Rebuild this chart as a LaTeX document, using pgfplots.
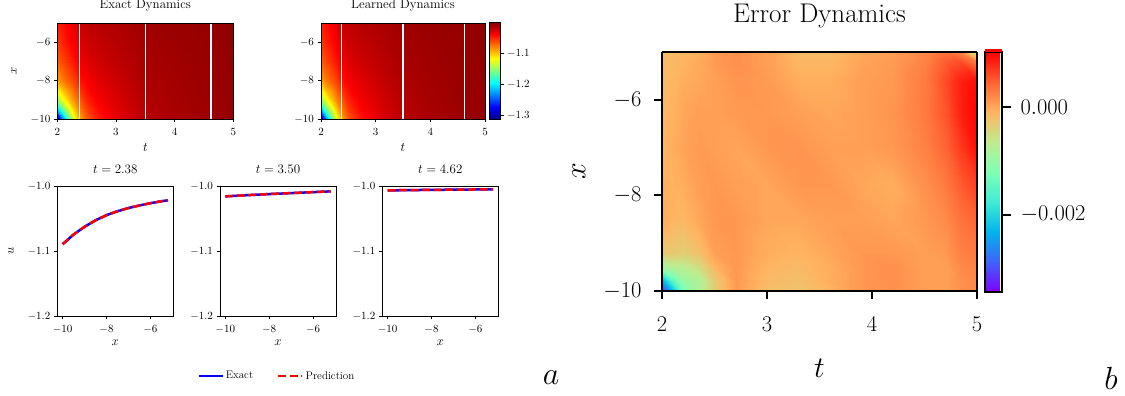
\RequirePackage{fix-cm}
\documentclass[border=0pt]{standalone}
\usepackage{pgfplots}
\usepackage{pgfplotstable}
\pgfplotsset{compat=1.18}
\newcommand{\fs}[1]{\fontsize{#1}{#1}\selectfont}

\pgfplotsset{
  colormap={mplrainbow}{rgb(0cm)=(0.5,0,1); rgb(1cm)=(0.25,0.383,0.981); rgb(2cm)=(0,0.707,0.924); rgb(3cm)=(0.25,0.924,0.831); rgb(4cm)=(0.5,1,0.707); rgb(5cm)=(0.75,0.924,0.556); rgb(6cm)=(1,0.707,0.383); rgb(7cm)=(1,0.383,0.195); rgb(8cm)=(1,0,0)},
  heat/.style={
    scale only axis, anchor=south west, view={0}{90}, axis on top,
    width=176pt, height=96pt,
    xmin=2, xmax=5, ymin=-10, ymax=-5,
    xtick={2,3,4,5}, ytick={-10,-8,-6}, ztick=\empty,
    tick align=outside, tick pos=left, major tick length=3.5pt,
    tick style={black, line width=0.8pt},
    axis line style={black, line width=0.8pt},
    tick label style={font=\fs{11}},
    xticklabel style={yshift=-2.5pt},
    colormap/jet, point meta min=-1.314, point meta max=-0.997,
    title style={font=\fs{13}, at={(axis description cs:0.5,1.118)}, anchor=center},
    xlabel={$t$},
    xlabel style={font=\fs{13}, at={(axis description cs:0.5,-0.292)}, anchor=center},
    ylabel style={font=\fs{13}, at={(axis description cs:-0.246,0.5)}, anchor=center},
  },
  linep/.style={
    scale only axis, anchor=south west, width=116pt, height=129.3pt,
    xmin=-10.24, xmax=-4.96, ymin=-1.2, ymax=-1.0,
    xtick={-10,-8,-6}, ytick={-1.2,-1.1,-1.0},
    yticklabels={$-1.2$,$-1.1$,$-1.0$},
    tick align=outside, tick pos=left, major tick length=3.5pt,
    tick style={black, line width=0.8pt},
    axis line style={black, line width=0.8pt},
    tick label style={font=\fs{11}},
    xticklabel style={yshift=-2.5pt},
    title style={font=\fs{13}, at={(axis description cs:0.5,1.0905)}, anchor=center},
    xlabel={$x$},
    xlabel style={font=\fs{13}, at={(axis description cs:0.5,-0.209)}, anchor=center},
    ylabel style={font=\fs{13}, at={(axis description cs:-0.399,0.5)}, anchor=center},
  },
}

\pgfplotstableread[row sep=\\]{
t x u\\
2.0 -10 -1.314\\ 2.1 -10 -1.230\\ 2.2 -10 -1.165\\ 2.3 -10 -1.115\\ 2.38 -10 -1.088\\ 2.5 -10 -1.065\\ 2.7 -10 -1.045\\ 3.0 -10 -1.030\\ 3.5 -10 -1.015\\ 4.0 -10 -1.010\\ 4.62 -10 -1.0058\\ 5.0 -10 -1.0042\\
2.0 -9.5 -1.210\\ 2.1 -9.5 -1.160\\ 2.2 -9.5 -1.125\\ 2.3 -9.5 -1.093\\ 2.38 -9.5 -1.073\\ 2.5 -9.5 -1.055\\ 2.7 -9.5 -1.039\\ 3.0 -9.5 -1.027\\ 3.5 -9.5 -1.014\\ 4.0 -9.5 -1.0095\\ 4.62 -9.5 -1.0055\\ 5.0 -9.5 -1.0040\\
2.0 -9 -1.150\\ 2.1 -9 -1.120\\ 2.2 -9 -1.097\\ 2.3 -9 -1.077\\ 2.38 -9 -1.063\\ 2.5 -9 -1.047\\ 2.7 -9 -1.035\\ 3.0 -9 -1.025\\ 3.5 -9 -1.013\\ 4.0 -9 -1.009\\ 4.62 -9 -1.0052\\ 5.0 -9 -1.0038\\
2.0 -8.5 -1.115\\ 2.1 -8.5 -1.095\\ 2.2 -8.5 -1.080\\ 2.3 -8.5 -1.065\\ 2.38 -8.5 -1.052\\ 2.5 -8.5 -1.040\\ 2.7 -8.5 -1.031\\ 3.0 -8.5 -1.023\\ 3.5 -8.5 -1.012\\ 4.0 -8.5 -1.0085\\ 4.62 -8.5 -1.0050\\ 5.0 -8.5 -1.0036\\
2.0 -8 -1.088\\ 2.1 -8 -1.075\\ 2.2 -8 -1.065\\ 2.3 -8 -1.055\\ 2.38 -8 -1.042\\ 2.5 -8 -1.035\\ 2.7 -8 -1.028\\ 3.0 -8 -1.021\\ 3.5 -8 -1.0113\\ 4.0 -8 -1.008\\ 4.62 -8 -1.0049\\ 5.0 -8 -1.0034\\
2.0 -7 -1.066\\ 2.1 -7 -1.057\\ 2.2 -7 -1.049\\ 2.3 -7 -1.040\\ 2.38 -7 -1.032\\ 2.5 -7 -1.027\\ 2.7 -7 -1.022\\ 3.0 -7 -1.017\\ 3.5 -7 -1.0098\\ 4.0 -7 -1.007\\ 4.62 -7 -1.0046\\ 5.0 -7 -1.0030\\
2.0 -6 -1.054\\ 2.1 -6 -1.046\\ 2.2 -6 -1.039\\ 2.3 -6 -1.032\\ 2.38 -6 -1.025\\ 2.5 -6 -1.021\\ 2.7 -6 -1.018\\ 3.0 -6 -1.014\\ 3.5 -6 -1.0083\\ 4.0 -6 -1.006\\ 4.62 -6 -1.0043\\ 5.0 -6 -1.0027\\
2.0 -5 -1.046\\ 2.1 -5 -1.040\\ 2.2 -5 -1.033\\ 2.3 -5 -1.026\\ 2.38 -5 -1.020\\ 2.5 -5 -1.017\\ 2.7 -5 -1.014\\ 3.0 -5 -1.012\\ 3.5 -5 -1.0068\\ 4.0 -5 -1.0052\\ 4.62 -5 -1.0040\\ 5.0 -5 -1.0024\\
}\exacttab

\pgfplotstableread[row sep=\\]{
t x e\\
2.0 -10 -3.2e-3\\ 2.1 -10 -2.2e-3\\ 2.2 -10 -1.3e-3\\ 2.35 -10 -0.8e-3\\ 2.5 -10 -0.3e-3\\ 2.7 -10 0.1e-3\\ 3.0 -10 -0.2e-3\\ 3.3 -10 -0.25e-3\\ 3.6 -10 -0.1e-3\\ 3.9 -10 0.1e-3\\ 4.2 -10 0.15e-3\\ 4.5 -10 0.05e-3\\ 4.7 -10 0.05e-3\\ 4.85 -10 0.15e-3\\ 5.0 -10 0.2e-3\\
2.0 -9.8 -2.4e-3\\ 2.1 -9.8 -1.5e-3\\ 2.2 -9.8 -1.0e-3\\ 2.35 -9.8 -0.8e-3\\ 2.5 -9.8 -0.3e-3\\ 2.7 -9.8 0.1e-3\\ 3.0 -9.8 -0.15e-3\\ 3.3 -9.8 -0.2e-3\\ 3.6 -9.8 -0.05e-3\\ 3.9 -9.8 0.1e-3\\ 4.2 -9.8 0.15e-3\\ 4.5 -9.8 0.05e-3\\ 4.7 -9.8 0.05e-3\\ 4.85 -9.8 0.15e-3\\ 5.0 -9.8 0.2e-3\\
2.0 -9.5 -0.85e-3\\ 2.1 -9.5 -0.75e-3\\ 2.2 -9.5 -0.7e-3\\ 2.35 -9.5 -0.5e-3\\ 2.5 -9.5 -0.1e-3\\ 2.7 -9.5 0.1e-3\\ 3.0 -9.5 -0.1e-3\\ 3.3 -9.5 -0.15e-3\\ 3.6 -9.5 -0.05e-3\\ 3.9 -9.5 0.1e-3\\ 4.2 -9.5 0.15e-3\\ 4.5 -9.5 0.05e-3\\ 4.7 -9.5 0.05e-3\\ 4.85 -9.5 0.2e-3\\ 5.0 -9.5 0.25e-3\\
2.0 -9.2 -0.3e-3\\ 2.1 -9.2 -0.3e-3\\ 2.2 -9.2 -0.35e-3\\ 2.35 -9.2 -0.2e-3\\ 2.5 -9.2 0.05e-3\\ 2.7 -9.2 0.1e-3\\ 3.0 -9.2 -0.05e-3\\ 3.3 -9.2 -0.1e-3\\ 3.6 -9.2 0.0\\ 3.9 -9.2 0.1e-3\\ 4.2 -9.2 0.1e-3\\ 4.5 -9.2 0.05e-3\\ 4.7 -9.2 0.1e-3\\ 4.85 -9.2 0.25e-3\\ 5.0 -9.2 0.3e-3\\
2.0 -8.5 0.0\\ 2.1 -8.5 -0.1e-3\\ 2.2 -8.5 -0.12e-3\\ 2.35 -8.5 0.0\\ 2.5 -8.5 0.1e-3\\ 2.7 -8.5 0.1e-3\\ 3.0 -8.5 0.0\\ 3.3 -8.5 0.0\\ 3.6 -8.5 0.05e-3\\ 3.9 -8.5 0.05e-3\\ 4.2 -8.5 0.0\\ 4.5 -8.5 0.1e-3\\ 4.7 -8.5 0.2e-3\\ 4.85 -8.5 0.35e-3\\ 5.0 -8.5 0.45e-3\\
2.0 -7.8 -0.05e-3\\ 2.1 -7.8 -0.08e-3\\ 2.2 -7.8 -0.05e-3\\ 2.35 -7.8 0.05e-3\\ 2.5 -7.8 0.1e-3\\ 2.7 -7.8 0.05e-3\\ 3.0 -7.8 0.0\\ 3.3 -7.8 0.1e-3\\ 3.6 -7.8 0.1e-3\\ 3.9 -7.8 0.0\\ 4.2 -7.8 -0.05e-3\\ 4.5 -7.8 0.15e-3\\ 4.7 -7.8 0.3e-3\\ 4.85 -7.8 0.5e-3\\ 5.0 -7.8 0.65e-3\\
2.0 -7.0 -0.1e-3\\ 2.1 -7.0 -0.05e-3\\ 2.2 -7.0 0.02e-3\\ 2.35 -7.0 0.08e-3\\ 2.5 -7.0 0.05e-3\\ 2.7 -7.0 0.0\\ 3.0 -7.0 0.1e-3\\ 3.3 -7.0 0.12e-3\\ 3.6 -7.0 0.05e-3\\ 3.9 -7.0 0.05e-3\\ 4.2 -7.0 0.1e-3\\ 4.5 -7.0 0.25e-3\\ 4.7 -7.0 0.45e-3\\ 4.85 -7.0 0.7e-3\\ 5.0 -7.0 0.95e-3\\
2.0 -6.3 -0.12e-3\\ 2.1 -6.3 -0.08e-3\\ 2.2 -6.3 0.0\\ 2.35 -6.3 0.05e-3\\ 2.5 -6.3 0.05e-3\\ 2.7 -6.3 0.08e-3\\ 3.0 -6.3 0.1e-3\\ 3.3 -6.3 0.05e-3\\ 3.6 -6.3 0.0\\ 3.9 -6.3 0.05e-3\\ 4.2 -6.3 0.12e-3\\ 4.5 -6.3 0.3e-3\\ 4.7 -6.3 0.55e-3\\ 4.85 -6.3 0.85e-3\\ 5.0 -6.3 1.0e-3\\
2.0 -5.6 -0.15e-3\\ 2.1 -5.6 -0.12e-3\\ 2.2 -5.6 -0.05e-3\\ 2.35 -5.6 0.0\\ 2.5 -5.6 0.05e-3\\ 2.7 -5.6 0.12e-3\\ 3.0 -5.6 0.08e-3\\ 3.3 -5.6 -0.05e-3\\ 3.6 -5.6 -0.05e-3\\ 3.9 -5.6 0.05e-3\\ 4.2 -5.6 0.1e-3\\ 4.5 -5.6 0.3e-3\\ 4.7 -5.6 0.6e-3\\ 4.85 -5.6 0.85e-3\\ 5.0 -5.6 0.95e-3\\
2.0 -5.2 -0.15e-3\\ 2.1 -5.2 -0.15e-3\\ 2.2 -5.2 -0.1e-3\\ 2.35 -5.2 -0.02e-3\\ 2.5 -5.2 0.08e-3\\ 2.7 -5.2 0.15e-3\\ 3.0 -5.2 0.05e-3\\ 3.3 -5.2 -0.12e-3\\ 3.6 -5.2 -0.12e-3\\ 3.9 -5.2 0.02e-3\\ 4.2 -5.2 0.08e-3\\ 4.5 -5.2 0.25e-3\\ 4.7 -5.2 0.5e-3\\ 4.85 -5.2 0.6e-3\\ 5.0 -5.2 0.3e-3\\
2.0 -5.0 -0.15e-3\\ 2.1 -5.0 -0.15e-3\\ 2.2 -5.0 -0.12e-3\\ 2.35 -5.0 -0.05e-3\\ 2.5 -5.0 0.08e-3\\ 2.7 -5.0 0.15e-3\\ 3.0 -5.0 0.05e-3\\ 3.3 -5.0 -0.15e-3\\ 3.6 -5.0 -0.15e-3\\ 3.9 -5.0 0.0\\ 4.2 -5.0 0.05e-3\\ 4.5 -5.0 0.2e-3\\ 4.7 -5.0 0.35e-3\\ 4.85 -5.0 0.2e-3\\ 5.0 -5.0 -0.7e-3\\
}\errtab

\begin{document}
\begin{tikzpicture}
\useasboundingbox (0pt,0pt) rectangle (1125pt,396pt);

% ---- Exact Dynamics
\begin{axis}[heat, at={(57.3pt,277pt)}, title={Exact Dynamics}, ylabel={$x$}]
\addplot3[surf, shader=interp, mesh/cols=12] table[x=t, y=x, z=u] {\exacttab};
\addplot3[white, line width=1.1pt, no marks] coordinates {(2.38,-10,-1.1) (2.38,-5,-1.1)};
\addplot3[white, line width=1.1pt, no marks] coordinates {(3.50,-10,-1.1) (3.50,-5,-1.1)};
\addplot3[white, line width=1.1pt, no marks] coordinates {(4.62,-10,-1.1) (4.62,-5,-1.1)};
\end{axis}

% ---- Learned Dynamics
\begin{axis}[heat, at={(321pt,277pt)}, width=164pt, title={Learned Dynamics},
  colorbar,
  colorbar style={
    at={(parent axis.north east)}, anchor=north west, xshift=-4.5pt, yshift=1pt,
    scale only axis, width=11pt, height=97.5pt,
    ytick={-1.3,-1.2,-1.1}, yticklabels={$-1.3$,$-1.2$,$-1.1$},
    scaled y ticks=false,
    ytick pos=right, yticklabel pos=right,
    tick align=outside, major tick length=3.5pt,
    tick style={black, line width=0.8pt},
    axis line style={black, line width=0.8pt},
    yticklabel style={font=\fs{11}},
  }]
\addplot3[surf, shader=interp, mesh/cols=12] table[x=t, y=x, z=u] {\exacttab};
\addplot3[white, line width=1.1pt, no marks] coordinates {(2.38,-10,-1.1) (2.38,-5,-1.1)};
\addplot3[white, line width=1.1pt, no marks] coordinates {(3.50,-10,-1.1) (3.50,-5,-1.1)};
\addplot3[white, line width=1.1pt, no marks] coordinates {(4.62,-10,-1.1) (4.62,-5,-1.1)};
\end{axis}

% ---- slices
\begin{axis}[linep, at={(57.3pt,80pt)}, title={$t = 2.38$}, ylabel={$u$}]
\addplot[blue, line width=2.5pt] coordinates {(-10,-1.089) (-9.5,-1.074) (-9,-1.062) (-8.5,-1.052) (-8,-1.044) (-7.5,-1.038) (-7,-1.033) (-6.5,-1.029) (-6,-1.0255) (-5.5,-1.0225) (-5.2,-1.021)};
\addplot[red, line width=2.5pt, dash pattern=on 8pt off 3.5pt] coordinates {(-10,-1.089) (-9.5,-1.074) (-9,-1.062) (-8.5,-1.052) (-8,-1.044) (-7.5,-1.038) (-7,-1.033) (-6.5,-1.029) (-6,-1.0255) (-5.5,-1.0225) (-5.2,-1.021)};
\end{axis}

\begin{axis}[linep, at={(220pt,80pt)}, title={$t = 3.50$},
  legend style={at={(axis description cs:0.49,-0.464)}, anchor=center, draw=none, fill=none, font=\fs{11}},
  legend columns=2,
  legend image code/.code={\draw[#1] (0pt,0pt) -- (24pt,0pt);},
  legend cell align=left,
  legend style={/tikz/every even column/.append style={column sep=22pt}}]
\addplot[blue, line width=2.5pt] coordinates {(-10,-1.0150) (-9,-1.0131) (-8,-1.0114) (-7,-1.0099) (-6,-1.0084) (-5.2,-1.0072)};
\addlegendentry{Exact}
\addplot[red, line width=2.5pt, dash pattern=on 8pt off 3.5pt] coordinates {(-10,-1.0150) (-9,-1.0131) (-8,-1.0114) (-7,-1.0099) (-6,-1.0084) (-5.2,-1.0072)};
\addlegendentry{Prediction}
\end{axis}

\begin{axis}[linep, at={(382.3pt,80pt)}, title={$t = 4.62$}]
\addplot[blue, line width=2.5pt] coordinates {(-10,-1.0057) (-9,-1.0053) (-8,-1.0049) (-7,-1.0046) (-6,-1.0043) (-5.2,-1.0041)};
\addplot[red, line width=2.5pt, dash pattern=on 8pt off 3.5pt] coordinates {(-10,-1.0057) (-9,-1.0053) (-8,-1.0049) (-7,-1.0046) (-6,-1.0043) (-5.2,-1.0041)};
\end{axis}

% ---- Error Dynamics
\begin{axis}[
  at={(662pt,105pt)}, anchor=south west, scale only axis, width=315pt, height=239pt,
  view={0}{90}, axis on top,
  xmin=2, xmax=5, ymin=-10, ymax=-5,
  xtick={2,3,4,5}, ytick={-10,-8,-6}, ztick=\empty, scaled z ticks=false,
  tick align=outside, tick pos=left, major tick length=8pt,
  tick style={black, line width=2pt},
  axis line style={black, line width=2.5pt},
  tick label style={font=\fs{22.5}},
  xticklabel style={yshift=-14pt},
  yticklabel style={xshift=-9pt},
  colormap name=mplrainbow, point meta min=-0.00344, point meta max=0.00102,
  title={Error Dynamics},
  title style={font=\fs{27}, at={(axis description cs:0.5,1.1255)}, anchor=center},
  xlabel={$t$}, ylabel={$x$},
  xlabel style={font=\fs{30}, at={(axis description cs:0.5,-0.322)}, anchor=center},
  ylabel style={font=\fs{30}, at={(axis description cs:-0.2635,0.5)}, anchor=center},
  colorbar,
  colorbar style={
    at={(parent axis.north east)}, anchor=north west, xshift=-0.5pt,
    scale only axis, width=17pt, height=240pt,
    ytick={-0.002,0}, yticklabels={$-0.002$,$0.000$},
    scaled y ticks=false,
    ytick pos=right, yticklabel pos=right,
    tick align=outside, major tick length=9pt,
    tick style={black, line width=2pt},
    axis line style={black, line width=2.5pt},
    yticklabel style={font=\fs{22.5}, xshift=6pt},
  }]
\addplot3[surf, shader=interp, mesh/cols=15] table[x=t, y=x, z=e] {\errtab};
\end{axis}
\fill[red] (985pt,344pt) rectangle (1002pt,347pt);

\node at (551pt,18pt) {\fs{32}$a$};
\node at (1111pt,18pt) {\fs{32}$b$};
\end{tikzpicture}
\end{document}
